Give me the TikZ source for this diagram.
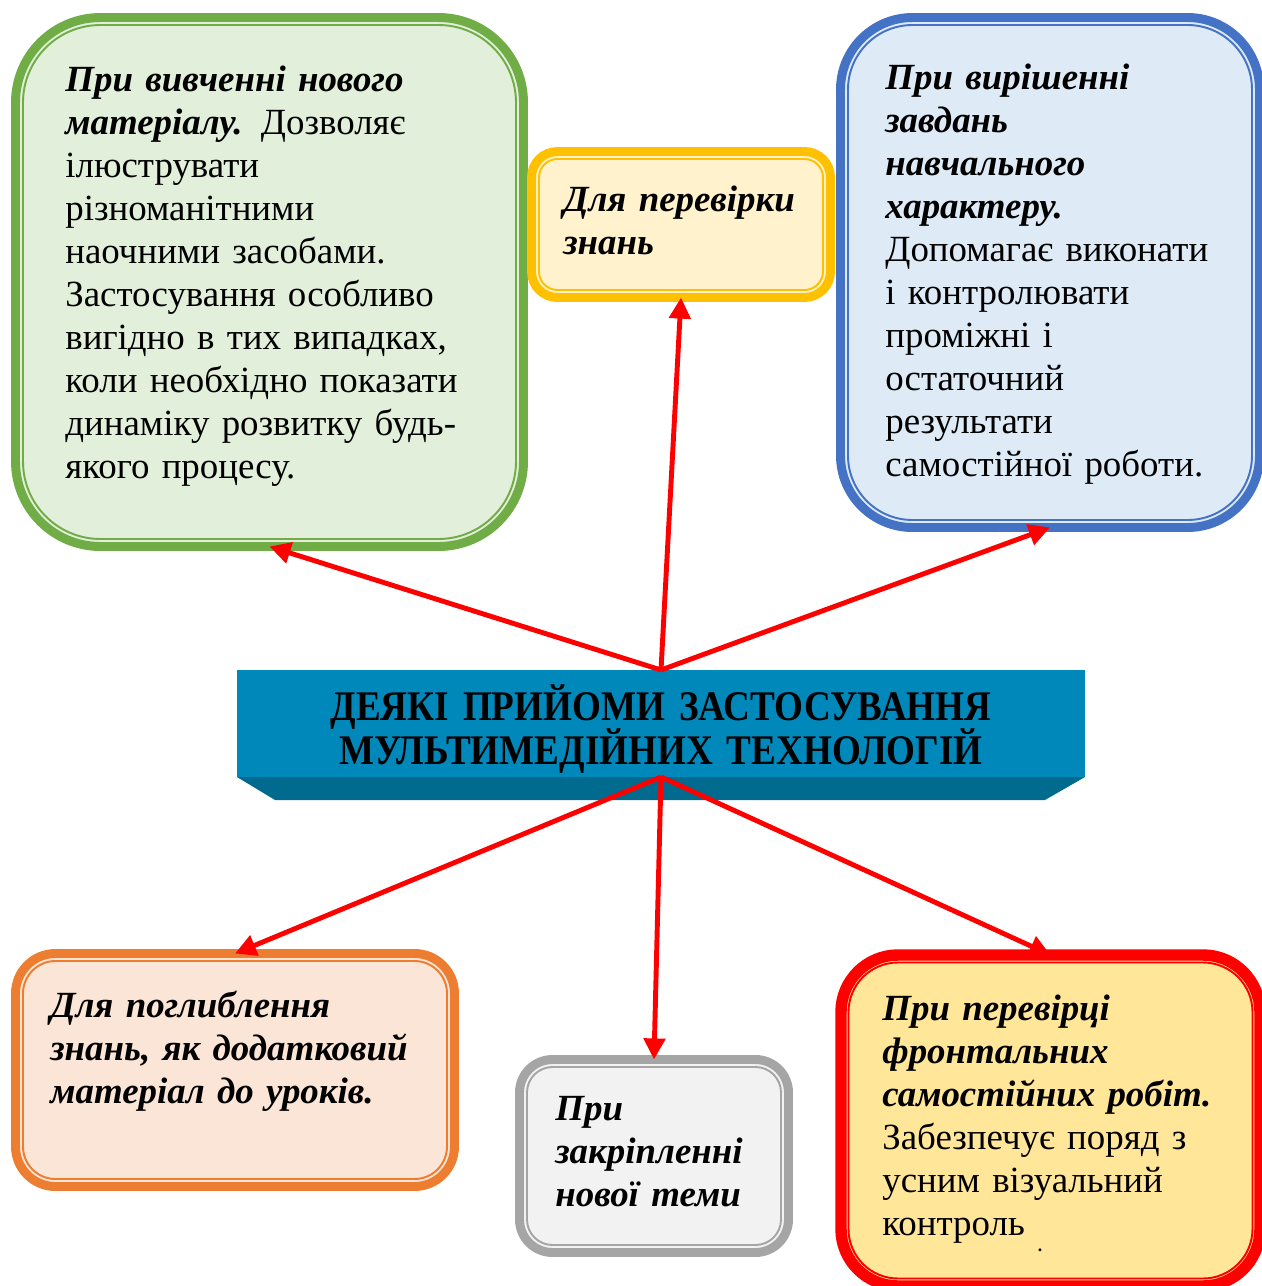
\documentclass[tikz,border=0pt]{standalone}
\usepackage{fontspec}
\setmainfont{Liberation Serif}
\newfontfamily\headfont[FakeStretch=0.88]{Liberation Serif}
\usetikzlibrary{arrows.meta, positioning}

\definecolor{greenline}{HTML}{70AD47}
\definecolor{greenfill}{HTML}{E2EFDA}
\definecolor{goldline}{HTML}{FFC000}
\definecolor{goldfill}{HTML}{FFF2CC}
\definecolor{blueline}{HTML}{4472C4}
\definecolor{bluefill}{HTML}{DEEBF7}
\definecolor{orangeline}{HTML}{ED7D31}
\definecolor{orangefill}{HTML}{FBE5D6}
\definecolor{greyline}{HTML}{A5A5A5}
\definecolor{greyfill}{HTML}{F2F2F2}
\definecolor{redline}{HTML}{FF0000}
\definecolor{redfill}{HTML}{FFE699}
\definecolor{bannerfront}{HTML}{0088BA}
\definecolor{bannerbevel}{HTML}{006A8F}

\newcommand{\bi}[1]{\textbf{\textit{#1}}}

\begin{document}
\begin{tikzpicture}[
  x=0.02cm, y=-0.02cm,
  panel/.style n args={3}{rectangle, draw=#1, fill=#2, line width=5.1pt, outer sep=0pt,
    rounded corners=#3*0.02cm},
  size/.style 2 args={minimum width=#1*0.02cm, minimum height=#2*0.02cm},
  note/.style={anchor=base west, align=left, text width=12cm, inner sep=0pt,
    font=\fontsize{21}{24.5}\selectfont},
  link/.style={draw=red, line width=2.8pt, -{Triangle[length=12pt, width=12pt]}}
]
\useasboundingbox (0,0) rectangle (1262,1286);

% Panels
\node[panel={greenline}{greenfill}{85}, size={508}{529}] (study) at (269.5,282) {};
\node[panel={goldline}{goldfill}{26}, size={299}{146}] (check) at (681,224.5) {};
\node[panel={blueline}{bluefill}{72}, size={419}{510}] (tasks) at (1050,272.5) {};
\node[panel={orangeline}{orangefill}{40}, size={439}{233}] (deepen) at (235,1070) {};
\node[panel={greyline}{greyfill}{33}, size={269}{193}] (fix) at (654,1156) {};
\node[panel={redline}{redfill}{57}, size={419}{331}, line width=6.5pt] (front) at (1050.5,1120.5) {};

% inner frame of each panel
\foreach \p/\c/\r in {study/greenline/85, check/goldline/26, tasks/blueline/72,
    deepen/orangeline/40, fix/greyline/33, front/redline/57}
  \draw[\c, line width=1.1pt, rounded corners=(\r-7.5)*0.02cm]
    ([shift={(7.5,7.5)}]\p.north west) rectangle ([shift={(-7.5,-7.5)}]\p.south east);

% Texts
\node[note] (studytext) at (65,91) {\bi{При вивченні нового}\\
  \bi{матеріалу.} Дозволяє\\ ілюструвати\\ різноманітними\\ наочними засобами.\\
  Застосування особливо\\ вигідно в тих випадках,\\ коли необхідно показати\\
  динаміку розвитку будь-\\ якого процесу.};
\node[note] (checktext) at (563,211) {\bi{Для перевірки}\\ \bi{знань}};
\node[note] (taskstext) at (885,89) {\bi{При вирішенні}\\ \bi{завдань}\\ \bi{навчального}\\
  \bi{характеру.}\\ Допомагає виконати\\ і контролювати\\ проміжні і\\ остаточний\\
  результати\\ самостійної роботи.};
\node[note] (deepentext) at (50,1017) {\bi{Для поглиблення}\\ \bi{знань, як додатковий}\\
  \bi{матеріал до уроків.}};
\node[note] (fixtext) at (555,1120) {\bi{При}\\ \bi{закріпленні}\\ \bi{нової теми}};
\node[note] (fronttext) at (882,1020) {\bi{При перевірці}\\ \bi{фронтальних}\\
  \bi{самостійних робіт.}\\ Забезпечує поряд з\\ усним візуальний\\ контроль};
\node[inner sep=0pt, font=\bfseries\fontsize{10}{10}\selectfont] (dot) at (1040,1250) {.};

% Banner
\node[fill=bannerfront, size={848}{107}, inner sep=0pt, outer sep=0pt] (banner) at (661,723.5) {};
\fill[bannerbevel] (banner.south west) -- (banner.south east)
  -- ([shift={(-40,23)}]banner.south east) -- ([shift={(38,23)}]banner.south west) -- cycle;
\node[anchor=base, align=center, text width=16cm, inner sep=0pt,
  font=\headfont\bfseries\fontsize{24}{25.6}\selectfont] (title) at (661,720)
  {ДЕЯКІ ПРИЙОМИ ЗАСТОСУВАННЯ\\ МУЛЬТИМЕДІЙНИХ ТЕХНОЛОГІЙ};

% Arrows
\draw[link] (banner.north) -- (study.south);
\draw[link] (banner.north) -- (check.south);
\draw[link] (banner.north) -- (tasks.south);
\draw[link] (banner.south) -- (deepen.north);
\draw[link] (banner.south) -- (fix.north);
\draw[link] (banner.south) -- (front.north);

\end{tikzpicture}
\end{document}
